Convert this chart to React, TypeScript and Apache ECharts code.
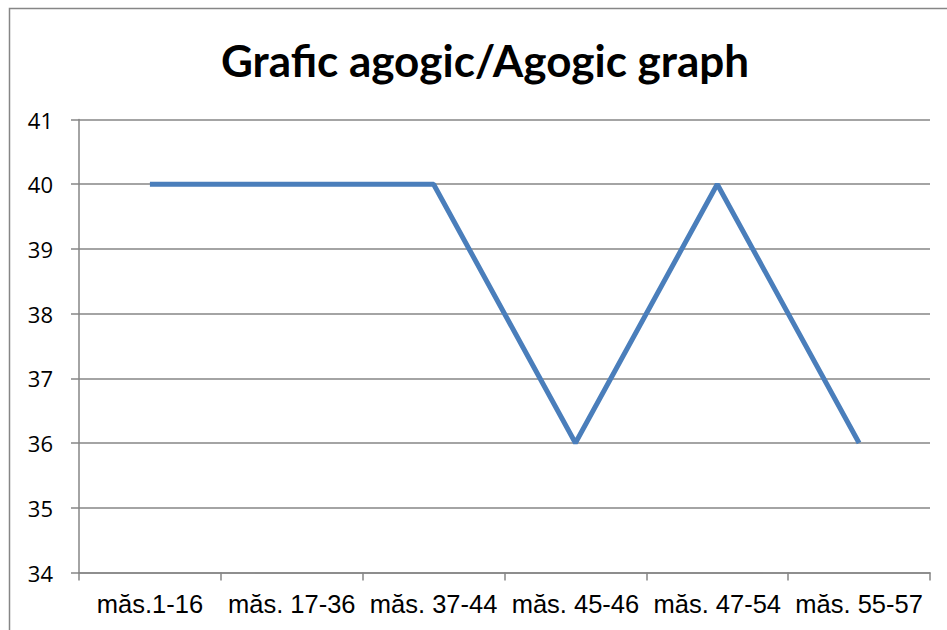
import React, { useEffect, useRef } from "react";
import * as echarts from "echarts";

const categories = ["măs.1-16", "măs. 17-36", "măs. 37-44", "măs. 45-46", "măs. 47-54", "măs. 55-57"];
const tempo = [40, 40, 40, 36, 40, 36];
const yMin = 34;
const yMax = 41;

export default function App() {
  const ref = useRef<HTMLDivElement>(null);
  useEffect(() => {
    const chart = echarts.init(ref.current!, null, { renderer: "svg" });
    chart.setOption({
      animation: false,
      backgroundColor: "#ffffff",
      title: {
        text: "Grafic agogic/Agogic graph",
        left: 480,
        top: 33,
        textAlign: "center",
        textStyle: { fontFamily: "Lato", fontWeight: "bold", fontSize: 44, color: "#000" },
      },
      graphic: [
        {
          type: "polyline",
          shape: { points: [[9.5, 640], [9.5, 8.5], [960, 8.5]] },
          style: { stroke: "#868686", lineWidth: 1.5, fill: "none" },
          silent: true,
        },
      ],
      grid: { left: 79, right: 17, top: 119.5, bottom: 57.5 },
      xAxis: {
        type: "category",
        data: categories,
        boundaryGap: true,
        axisLine: { lineStyle: { color: "#868686", width: 1.5 } },
        axisTick: { show: true, length: 8, lineStyle: { color: "#868686", width: 1.5 } },
        axisLabel: { fontFamily: "Liberation Sans", fontSize: 25.5, color: "#000", margin: 18, interval: 0 },
      },
      yAxis: {
        type: "value",
        min: yMin,
        max: yMax,
        interval: 1,
        axisLine: { show: true, lineStyle: { color: "#868686", width: 1.5 } },
        axisTick: { show: true, length: 8, lineStyle: { color: "#868686", width: 1.5 } },
        axisLabel: { fontFamily: "Open Sans", fontSize: 22, color: "#000", margin: 26 },
        splitLine: { lineStyle: { color: "#868686", width: 1.5 } },
      },
      series: [
        {
          type: "line",
          data: tempo,
          symbol: "none",
          lineStyle: { color: "#4a7ebb", width: 5 },
        },
      ],
    });
    return () => chart.dispose();
  }, []);
  return <div ref={ref} style={{ position: "fixed", left: 0, top: 0, width: 947, height: 630 }} />;
}
